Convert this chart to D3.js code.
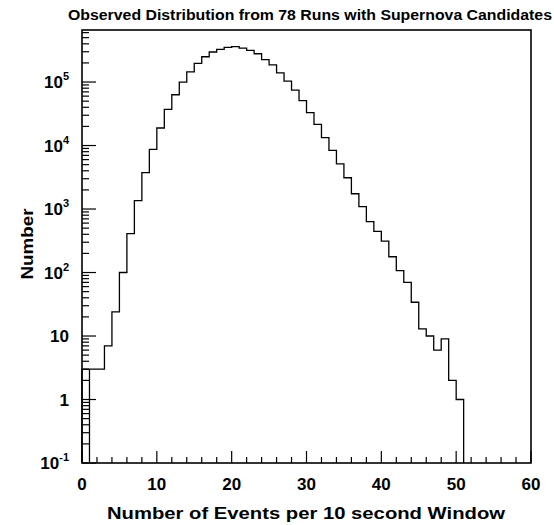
<!DOCTYPE html>
<html>
<head>
<meta charset="utf-8">
<script src="https://cdn.jsdelivr.net/npm/d3@7/dist/d3.min.js"></script>
<style>
  html, body { margin: 0; padding: 0; background: #fff; }
  svg { display: block; }
  text { font-family: "Liberation Sans", Arial, Helvetica, sans-serif; font-weight: bold; fill: #000; }
</style>
</head>
<body>
<svg id="chart" width="554" height="525"></svg>
<script>
// ---- data ----
const title = "Observed Distribution from 78 Runs with Supernova Candidates";
const xTitle = "Number of Events per 10 second Window";
const yTitle = "Number";
const binStart = [0,1,2,3,4,5,6,7,8,9,10,11,12,13,14,15,16,17,18,19,20,21,22,23,24,25,
  26,27,28,29,30,31,32,33,34,35,36,37,38,39,40,41,42,43,44,45,46,47,48,49,50];
const counts = [3,3,3,7,24,100,410,1360,3730,8710,18900,37100,63100,100000,145000,197000,
  250000,297000,327000,352000,360000,343000,316000,279000,225000,187000,139000,103000,74800,
  50800,32900,21600,13300,8400,5160,3110,1740,1090,631,446,313,177,107,70,34,13,10,6,9,2,1];
const dropEdges = [1];
const xTickValues = [0,10,20,30,40,50,60];
const xMinorTickValues = [2,4,6,8,12,14,16,18,22,24,26,28,32,34,36,38,42,44,46,48,52,54,56,58];
const yDomain = [0.1, 660000];
const xDomain = [0, 60];

// ---- layout ----
const svg = d3.select("#chart");
const L = 82, R = 531, T = 30, B = 463;
const x = d3.scaleLinear().domain(xDomain).range([L, R]);
const y = d3.scaleLog().domain(yDomain).range([B, T]);

// histogram
const pts = [[binStart[0], yDomain[0]]];
binStart.forEach((b, i) => pts.push([b, counts[i]]));
const lastEdge = binStart[binStart.length - 1] + 1;
pts.push([lastEdge, counts[counts.length - 1]]);
pts.push([lastEdge, yDomain[0]]);
const line = d3.line().x(d => x(d[0])).y(d => y(d[1])).curve(d3.curveStepAfter);
svg.append("path").attr("d", line(pts))
  .attr("fill", "none").attr("stroke", "#000").attr("stroke-width", 1.3);

dropEdges.forEach(e => {
  const v = counts[binStart.indexOf(e)];
  svg.append("line").attr("x1", x(e)).attr("x2", x(e))
    .attr("y1", y(v)).attr("y2", y(yDomain[0]))
    .attr("stroke", "#000").attr("stroke-width", 1.3);
});

// frame
svg.append("rect").attr("x", L).attr("y", T).attr("width", R - L).attr("height", B - T)
  .attr("fill", "none").attr("stroke", "#000").attr("stroke-width", 1.6);

// x ticks
const gx = svg.append("g");
xTickValues.forEach(v => {
  gx.append("line").attr("x1", x(v)).attr("x2", x(v)).attr("y1", B).attr("y2", B - 12)
    .attr("stroke", "#000").attr("stroke-width", 1.2);
  gx.append("text").attr("x", x(v)).attr("y", 490).attr("text-anchor", "middle")
    .attr("font-size", 17).text(v);
});
xMinorTickValues.forEach(v => {
  gx.append("line").attr("x1", x(v)).attr("x2", x(v)).attr("y1", B).attr("y2", B - 6)
    .attr("stroke", "#000").attr("stroke-width", 1.2);
});

// y ticks
const gy = svg.append("g");
y.ticks().forEach(v => {
  const lg = Math.log10(v);
  const major = Math.abs(lg - Math.round(lg)) < 1e-9;
  gy.append("line").attr("x1", L).attr("x2", L + (major ? 14 : 7))
    .attr("y1", y(v)).attr("y2", y(v)).attr("stroke", "#000").attr("stroke-width", 1.2);
  if (major) {
    const e = Math.round(lg);
    const t = gy.append("text").attr("x", 69).attr("y", y(v) + 6)
      .attr("text-anchor", "end").attr("font-size", 17);
    if (e === 0) t.text("1");
    else if (e === 1) t.text("10");
    else {
      t.append("tspan").text("10");
      t.append("tspan").attr("font-size", 11).attr("dy", -8).text(e);
    }
  }
});

// titles
svg.append("text").attr("x", 310).attr("y", 20).attr("text-anchor", "middle")
  .attr("font-size", 14).attr("textLength", 484).attr("lengthAdjust", "spacingAndGlyphs")
  .text(title);
svg.append("text").attr("x", 306).attr("y", 519).attr("text-anchor", "middle")
  .attr("font-size", 17).attr("textLength", 398).attr("lengthAdjust", "spacingAndGlyphs")
  .text(xTitle);
svg.append("text").attr("transform", "translate(33,244) rotate(-90)")
  .attr("text-anchor", "middle").attr("font-size", 17)
  .attr("textLength", 71).attr("lengthAdjust", "spacingAndGlyphs").text(yTitle);
</script>
</body>
</html>
